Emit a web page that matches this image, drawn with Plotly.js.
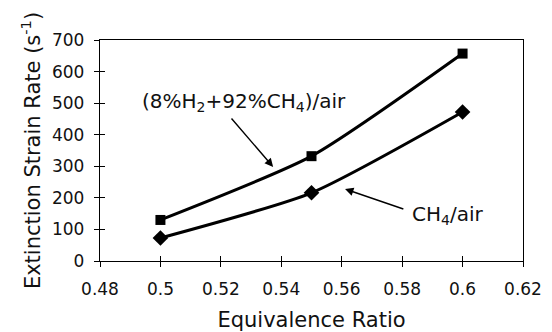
<!DOCTYPE html>
<html><head><meta charset="utf-8">
<script src="https://cdn.plot.ly/plotly-3.0.1.min.js"></script>
<style>html,body{margin:0;padding:0;background:#fff}#c{width:552px;height:332px}</style>
</head><body><div id="c"></div>
<script>
const phi = [0.5, 0.55, 0.6];
const blendRate = [130, 332, 657];
const ch4Rate = [73, 216, 472];
const xTicks = [0.48, 0.5, 0.52, 0.54, 0.56, 0.58, 0.6, 0.62];
const xTickText = ['0.48', '0.5', '0.52', '0.54', '0.56', '0.58', '0.6', '0.62'];
const yTicks = [0, 100, 200, 300, 400, 500, 600, 700];

const F = '"DejaVu Sans", Lato, sans-serif';
const traces = [
  {x: phi, y: blendRate, mode: 'lines+markers', line: {color: '#000', width: 3, shape: 'spline', smoothing: 0.6},
   marker: {symbol: 'square', size: 10, color: '#000'}},
  {x: phi, y: ch4Rate, mode: 'lines+markers', line: {color: '#000', width: 3, shape: 'spline', smoothing: 0.6},
   marker: {symbol: 'diamond', size: 12, color: '#000'}},
  {x: [0.5], y: [0], xaxis: 'x2', yaxis: 'y2', mode: 'markers', marker: {opacity: 0}, hoverinfo: 'skip'}
];
const axBase = {showgrid: false, zeroline: false, linecolor: '#000', linewidth: 1.2, ticklen: 5, tickcolor: '#000', tickwidth: 1, automargin: false};
const layout = {
  width: 552, height: 332, showlegend: false,
  margin: {l: 100, r: 29, t: 40, b: 71},
  paper_bgcolor: '#fff', plot_bgcolor: '#fff',
  font: {family: F, color: '#111', size: 17},
  xaxis: Object.assign({}, axBase, {range: [0.48, 0.62], tickvals: xTicks, ticktext: xTickText, ticks: 'outside', mirror: true,
    ticklabelstandoff: 7,
    title: {text: 'Equivalence Ratio', font: {size: 21}, standoff: 17}}),
  yaxis: Object.assign({}, axBase, {range: [0, 700], tickvals: yTicks, ticks: 'outside', mirror: true,
    ticklabelstandoff: 6,
    title: {text: 'Extinction Strain Rate (s<sup>-1</sup>)', font: {size: 21}, standoff: 5}}),
  xaxis2: Object.assign({}, axBase, {overlaying: 'x', range: [0.48, 0.62], tickvals: xTicks, ticks: 'inside', showticklabels: false, showline: false, anchor: 'y2'}),
  yaxis2: Object.assign({}, axBase, {overlaying: 'y', range: [0, 700], tickvals: yTicks, ticks: 'inside', showticklabels: false, showline: false, anchor: 'x2'}),
  annotations: [
    {x: 0.5373, y: 298, ax: 0.5231, ay: 456, axref: 'x', ayref: 'y', xref: 'x', yref: 'y', text: '', showarrow: true,
     arrowhead: 2, arrowsize: 1.2, arrowwidth: 1.4, arrowcolor: '#000'},
    {x: 0.5275, y: 505, xref: 'x', yref: 'y', text: '(8%H<sub>2</sub>+92%CH<sub>4</sub>)/air', showarrow: false, font: {size: 20}},
    {x: 0.5611, y: 228, ax: 0.5809, ay: 163, axref: 'x', ayref: 'y', xref: 'x', yref: 'y', text: '', showarrow: true,
     arrowhead: 2, arrowsize: 1.2, arrowwidth: 1.4, arrowcolor: '#000'},
    {x: 0.5951, y: 145, xref: 'x', yref: 'y', text: 'CH<sub>4</sub>/air', showarrow: false, font: {size: 20}}
  ]
};
Plotly.newPlot('c', traces, layout, {staticPlot: true, displayModeBar: false});
</script></body></html>
